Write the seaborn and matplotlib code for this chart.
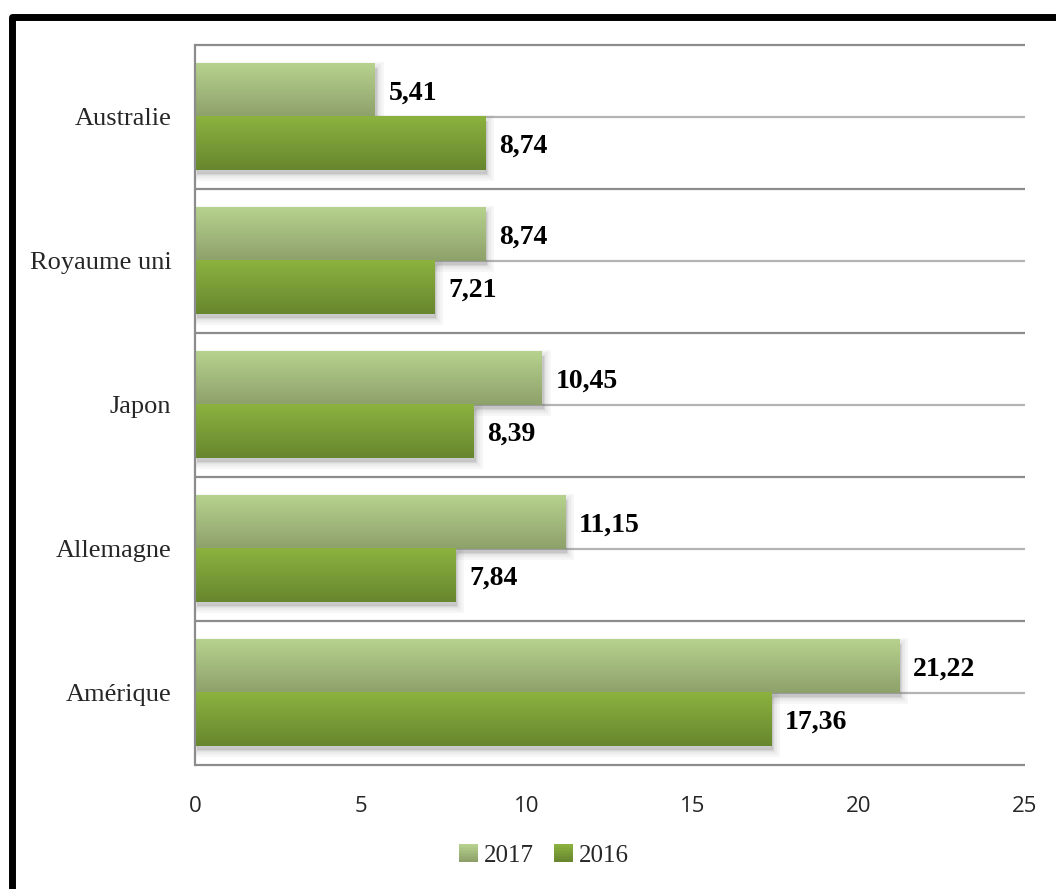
import numpy as np
import pandas as pd
import matplotlib
matplotlib.use("Agg")
import matplotlib.pyplot as plt
import seaborn as sns
from matplotlib.colors import LinearSegmentedColormap
from matplotlib.patches import Rectangle
from matplotlib.transforms import ScaledTranslation
from matplotlib.legend_handler import HandlerBase

# Data
countries = ["Australie", "Royaume uni", "Japon", "Allemagne", "Amérique"]
years = ["2017", "2016"]
values_2017 = [5.41, 8.74, 10.45, 11.15, 21.22]
values_2016 = [8.74, 7.21, 8.39, 7.84, 17.36]
x_ticks = [0, 5, 10, 15, 20, 25]

# Gradient colours (top, bottom) for each series
gradients = {
    "2017": ("#b7d28e", "#8da06a"),
    "2016": ("#8cb23f", "#67862e"),
}

df = pd.DataFrame({
    "pays": countries * 2,
    "annee": [years[0]] * len(countries) + [years[1]] * len(countries),
    "valeur": values_2017 + values_2016,
})

sns.set_theme(style="white")
serif = "Liberation Serif"
sans = "Open Sans"

fig = plt.figure(figsize=(10.56, 8.89), dpi=100)
ax = fig.add_axes([0.1847, 0.1395, 0.7859, 0.8099])

sns.barplot(
    data=df, y="pays", x="valeur", hue="annee",
    order=countries, hue_order=years, orient="h",
    width=0.74, palette=[gradients[y][0] for y in years],
    saturation=1, errorbar=None, legend=False, ax=ax,
)

ax.set_xlim(0, 25)
ax.set_ylim(len(countries) - 0.5, -0.5)

# Horizontal rules: category boundaries and category centres
bounds = np.arange(-0.5, len(countries) + 0.5, 1.0)
centres = np.arange(len(countries))
ax.hlines(bounds, 0, 25, color="#8c8c8c", lw=1.6, zorder=0.5, clip_on=False)
ax.hlines(centres, 0, 25, color="#b4b4b4", lw=1.6, zorder=0.5, clip_on=False)

grad = np.linspace(0, 1, 256).reshape(-1, 1)
for year, container in zip(years, ax.containers):
    top, bottom = gradients[year]
    cmap = LinearSegmentedColormap.from_list(f"g{year}", [top, bottom])
    for bar, value in zip(container, container.datavalues):
        x0, y0 = bar.get_x(), bar.get_y()
        w, h = bar.get_width(), bar.get_height()
        bar.set_facecolor("none")
        bar.set_edgecolor("none")
        # soft drop shadow
        shift = ax.transData + ScaledTranslation(2 / 100, -4 / 100, fig.dpi_scale_trans)
        for lw in [9, 6, 3, 0.5]:
            ax.add_patch(Rectangle((x0, y0), w, h, transform=shift,
                                   facecolor="#777777", edgecolor="#777777",
                                   lw=lw, alpha=0.07, zorder=1))
        ax.imshow(grad, cmap=cmap, aspect="auto", origin="upper",
                  extent=(x0, x0 + w, y0 + h, y0), zorder=2,
                  interpolation="bicubic")
        # value label at the end of the bar
        ax.annotate(f"{value:.2f}".replace(".", ","),
                    xy=(value, y0 + h / 2), xytext=(10, -2),
                    textcoords="offset points", ha="left", va="center",
                    fontsize=20, fontweight="bold", family=serif,
                    color="black")

ax.set_xlim(0, 25)
ax.set_ylim(len(countries) - 0.5, -0.5)

ax.set_xticks(x_ticks)
ax.set_xticklabels([str(t) for t in x_ticks], family=sans, fontsize=16)
ax.set_yticks(centres)
ax.set_yticklabels(countries, family=serif, fontsize=19)
ax.tick_params(axis="x", length=0, pad=22)
ax.tick_params(axis="y", length=0, pad=17)
ax.set_xlabel("")
ax.set_ylabel("")

for side in ["top", "right", "bottom"]:
    ax.spines[side].set_visible(False)
ax.spines["left"].set_color("#8c8c8c")
ax.spines["left"].set_linewidth(1.6)
ax.spines["left"].set_zorder(3)


class GradientHandler(HandlerBase):
    def __init__(self, top, bottom):
        super().__init__()
        self.cmap = LinearSegmentedColormap.from_list("h", [top, bottom])

    def create_artists(self, legend, orig_handle, xdescent, ydescent,
                       width, height, fontsize, trans):
        n = 12
        artists = []
        for i in range(n):
            y = -ydescent + height * (1 - (i + 1) / n)
            artists.append(Rectangle((-xdescent, y), width, height / n * 1.05,
                                     facecolor=self.cmap(i / (n - 1)),
                                     edgecolor="none", transform=trans))
        return artists


handles = [Rectangle((0, 0), 1, 1) for _ in years]
handler_map = {h: GradientHandler(*gradients[y]) for h, y in zip(handles, years)}
fig.legend(handles, years, handler_map=handler_map, loc="center",
           bbox_to_anchor=(0.515, 0.038), ncol=2, frameon=False,
           prop={"family": serif, "size": 18}, handlelength=0.75,
           handleheight=0.75, handletextpad=0.25, columnspacing=0.8)

# Black outer frame
fig.patches.append(Rectangle((0.0109, -0.05), 1.05, 1.0314,
                             transform=fig.transFigure, fill=False,
                             ec="black", lw=5, joinstyle="round"))

fig.savefig("out.png", dpi=100)
